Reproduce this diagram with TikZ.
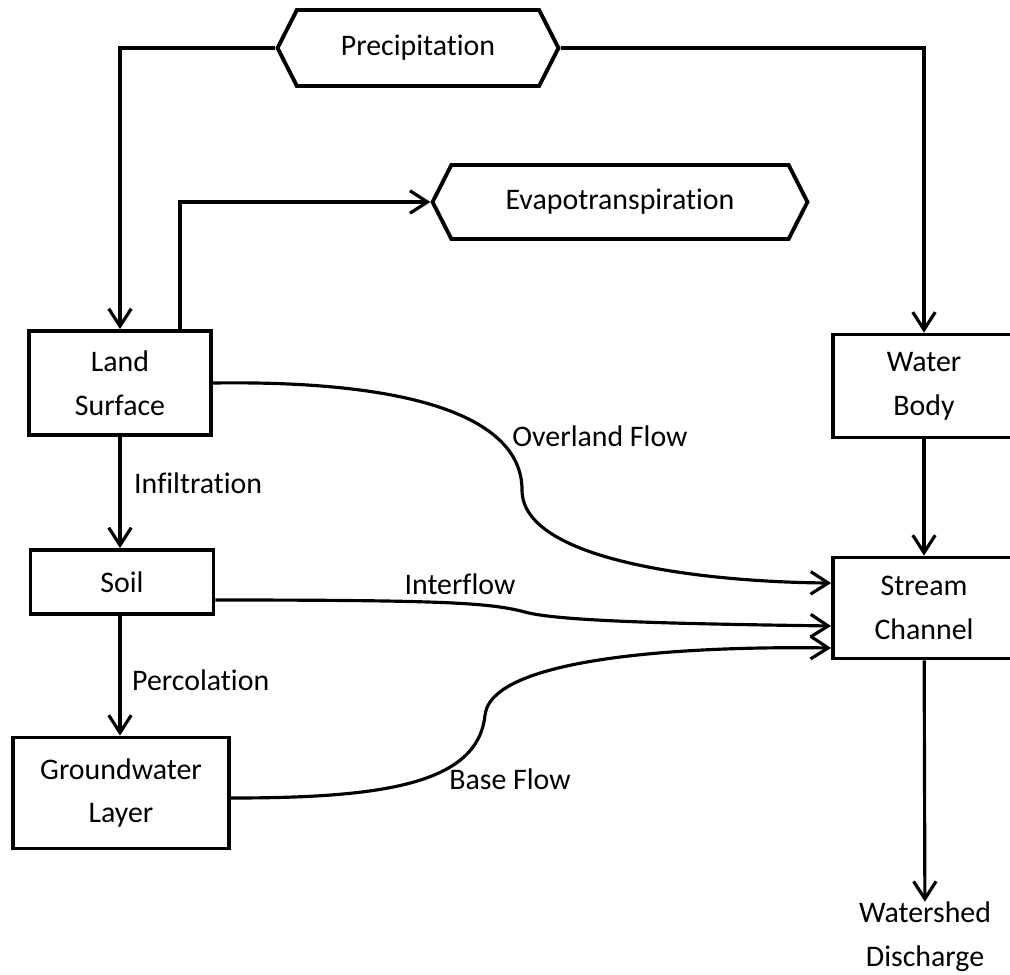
\documentclass[tikz,border=0pt]{standalone}
\usepackage{fontspec}
\setmainfont{Carlito}[Ligatures=NoCommon]
\usetikzlibrary{arrows.meta}
\usetikzlibrary{shapes.symbols}

\begin{document}
\begin{tikzpicture}[x=0.02cm,y=-0.02cm,
    font=\fontsize{17}{25}\selectfont,
    box/.style={draw,line width=2.2pt,align=center,minimum width=3.64cm,inner sep=0pt},
    hexbox/.style={draw,line width=2.2pt,signal,signal to=west and east,signal pointer angle=126,inner sep=0pt},
    flow/.style={line width=1.8pt,-{Straight Barb[length=3.5mm,width=4.5mm]}}]
    \useasboundingbox (0,0) rectangle (1010,974);
    \node [hexbox,minimum width=5.62cm,minimum height=1.52cm] (precip) at (418,48) {Precipitation};
    \node [hexbox,minimum width=7.5cm,minimum height=1.48cm] (evap) at (620,202) {Evapotranspiration};
    \node [box,minimum height=2.08cm] (land) at (120,383) {Land\\Surface};
    \node [box,minimum width=3.66cm,minimum height=1.28cm] (soil) at (122,582) {Soil};
    \node [box,minimum width=4.32cm,minimum height=2.22cm] (ground) at (121,793) {Groundwater\\Layer};
    \node [box,minimum height=2.06cm] (water) at (924,386) {Water\\Body};
    \node [box,minimum height=2.02cm] (stream) at (924,608) {Stream\\Channel};
    \node [align=center,inner sep=0pt] (outlet) at (925,937) {Watershed\\Discharge};
    \draw [flow] (precip.west) -| (land.north);
    \draw [flow] (precip.east) -| (water.north);
    \draw [flow] ([xshift=1.2cm]land.north) |- (evap.west);
    \draw [flow] (land.south) -- (land.south |- soil.north);
    \draw [flow] (soil.south -| land.south) -- (land.south |- ground.north);
    \draw [flow] (water) -- (stream);
    \draw [flow] (stream) -- (outlet);
    \draw [flow] (land.east) .. controls (420,380) and (522,420) .. (522,490)
        .. controls (522,560) and (700,582) .. ([yshift=0.5cm]stream.west);
    \draw [flow] ([yshift=-0.36cm]soil.east) .. controls (450,600) and (490,603) .. (525,612)
        .. controls (560,622) and (700,624) .. ([yshift=-0.36cm]stream.west);
    \draw [flow] ([yshift=-0.1cm]ground.east) .. controls (380,798) and (478,785) .. (485,715)
        .. controls (492,655) and (700,646) .. ([yshift=-0.8cm]stream.west);
    \node [anchor=west] (infil) at (128,483) {Infiltration};
    \node [anchor=west] (perc) at (126,680) {Percolation};
    \node (overland) at (600,436) {Overland Flow};
    \node (inter) at (460,584) {Interflow};
    \node (base) at (510,779) {Base Flow};
\end{tikzpicture}
\end{document}
